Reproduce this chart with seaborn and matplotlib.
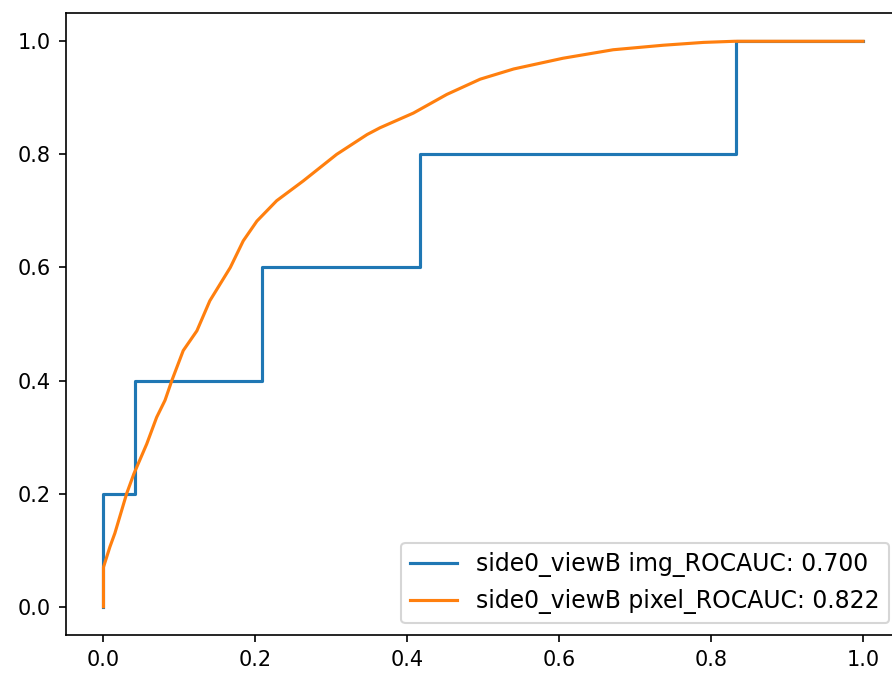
import matplotlib
matplotlib.use("Agg")
import matplotlib.pyplot as plt
import seaborn as sns
import numpy as np

# Image-level ROC (step curve)
img_fpr = [0.0, 0.0, 0.0417, 0.0417, 0.2083, 0.2083, 0.4167, 0.4167, 0.8333, 0.8333, 1.0]
img_tpr = [0.0, 0.2, 0.2, 0.4, 0.4, 0.6, 0.6, 0.8, 0.8, 1.0, 1.0]

# Pixel-level ROC
pix_fpr = [0.0, 0.0, 0.0085, 0.015, 0.0305, 0.040, 0.057, 0.070, 0.081, 0.090,
           0.105, 0.123, 0.140, 0.167, 0.184, 0.202, 0.228, 0.263, 0.307, 0.347,
           0.364, 0.408, 0.452, 0.496, 0.540, 0.605, 0.671, 0.737, 0.790, 0.831, 1.0]
pix_tpr = [0.0, 0.07, 0.106, 0.13, 0.20, 0.235, 0.288, 0.335, 0.365, 0.40,
           0.453, 0.488, 0.541, 0.600, 0.647, 0.682, 0.718, 0.753, 0.800, 0.835,
           0.847, 0.873, 0.906, 0.933, 0.951, 0.970, 0.985, 0.993, 0.998, 1.0, 1.0]

labels = ["side0_viewB img_ROCAUC: 0.700", "side0_viewB pixel_ROCAUC: 0.822"]
colors = ["#1f77b4", "#ff7f0e"]

W, H, DPI = 892, 673, 150
fig = plt.figure(figsize=(W / DPI, H / DPI), dpi=DPI)
left, right, bottom, top = 65.5, 901, 635, 13
ax = fig.add_axes([left / W, (H - bottom) / H, (right - left) / W, (bottom - top) / H])

sns.lineplot(x=np.array(img_fpr), y=np.array(img_tpr), ax=ax, sort=False, estimator=None,
             color=colors[0], label=labels[0], linewidth=1.5)
sns.lineplot(x=np.array(pix_fpr), y=np.array(pix_tpr), ax=ax, sort=False, estimator=None,
             color=colors[1], label=labels[1], linewidth=1.5)

ax.set_xlim(-0.05, 1.05)
ax.set_ylim(-0.05, 1.05)
ax.set_xticks([0.0, 0.2, 0.4, 0.6, 0.8, 1.0])
ax.set_yticks([0.0, 0.2, 0.4, 0.6, 0.8, 1.0])
ax.set_xlabel("")
ax.set_ylabel("")
ax.legend(loc="lower right", fontsize=11.3)

fig.savefig("out.png", dpi=DPI)
